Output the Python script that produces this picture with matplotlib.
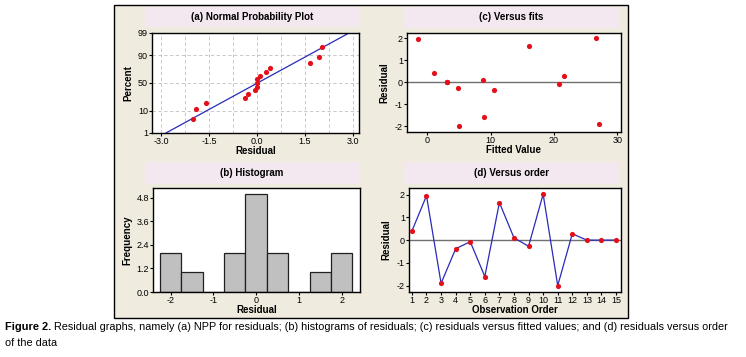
import matplotlib
matplotlib.use("Agg")
import matplotlib.pyplot as plt
from matplotlib.patches import Rectangle
from statistics import NormalDist
import numpy as np

# residuals in observation order
order = list(range(1, 16))
residuals = [0.40, 1.95, -1.90, -0.38, -0.07, -1.60, 1.65, 0.10, -0.27, 2.02, -2.00, 0.28, 0.0, 0.0, 0.0]
fitted = [1.0, -1.5, 27.2, 10.5, 20.8, 9.0, 16.1, 8.8, 4.8, 26.6, 5.0, 21.6, 3.1, 3.1, 3.1]

npp_xticks = [-3.0, -1.5, 0.0, 1.5, 3.0]
npp_yticks = [1, 10, 50, 90, 99]
hist_bins = [-2.25, -1.75, -1.25, -0.75, -0.25, 0.25, 0.75, 1.25, 1.75, 2.25]
hist_yticks = [0.0, 1.2, 2.4, 3.6, 4.8]

W, H = 746, 357
BG = "#efebdf"
BAND = "#f3e7f0"
RED = "#e3101b"
BLUE = "#2a2ab8"
plt.rcParams['font.family'] = ['Liberation Sans', 'DejaVu Sans']
plt.rcParams['axes.unicode_minus'] = False

fig = plt.figure(figsize=(W / 100, H / 100), dpi=100)


def box(x0, y0, x1, y1):
    return [x0 / W, 1 - y1 / H, (x1 - x0) / W, (y1 - y0) / H]


def rect(x0, y0, x1, y1, **kw):
    b = box(x0, y0, x1, y1)
    fig.patches.append(Rectangle((b[0], b[1]), b[2], b[3], transform=fig.transFigure, **kw))


def ftext(x, y, s, **kw):
    return fig.text(x / W, 1 - y / H, s, **kw)


rect(114, 5, 628, 318, facecolor=BG, edgecolor="black", lw=1.0, zorder=-2)
for b in [(145, 7, 360, 27), (404, 7, 619, 28), (145, 162, 360, 184), (404, 162, 619, 184)]:
    rect(*b, facecolor=BAND, edgecolor="none", zorder=-1)

tfont = dict(fontsize=7, fontweight="bold", ha="center", va="center")
ftext(252, 17, "(a) Normal Probability Plot", **tfont)
ftext(511, 17, "(c) Versus fits", **tfont)
ftext(252, 173, "(b) Histogram", **tfont)
ftext(511, 173, "(d) Versus order", **tfont)


def style(ax):
    ax.set_zorder(5)
    ax.tick_params(labelsize=6.5, length=2, width=0.8, pad=1, colors="black")
    for s in ax.spines.values():
        s.set_linewidth(1.0)
    ax.set_facecolor("white")


# (a) normal probability plot
nd = NormalDist()
ax = fig.add_axes(box(152, 33, 359, 133))
srt = np.sort(residuals)
n = len(srt)
pz = [nd.inv_cdf((i + 1 - 0.3) / (n + 0.4)) for i in range(n)]
mu, sd = np.mean(residuals), np.std(residuals, ddof=1)
lz = np.array([nd.inv_cdf(0.01), nd.inv_cdf(0.99)])
ax.plot(mu + sd * lz, lz, color=BLUE, lw=0.9, zorder=2)
ax.scatter(srt, pz, s=14, color=RED, zorder=3, linewidths=0)
ax.set_xlim(-3.29, 3.19)
ax.set_ylim(lz[0], lz[1])
ax.set_xticks(npp_xticks)
ax.set_xticklabels([f"{v:.1f}" for v in npp_xticks])
ax.set_yticks([nd.inv_cdf(p / 100) for p in npp_yticks])
ax.set_yticklabels([str(p) for p in npp_yticks])
for gx in np.arange(-3.0, 3.01, 0.75):
    ax.axvline(gx, color="#c0c0c0", lw=0.6, ls=(0, (4, 3)), zorder=1)
for p in [10, 50, 90]:
    ax.axhline(nd.inv_cdf(p / 100), color="#c0c0c0", lw=0.6, ls=(0, (4, 3)), zorder=1)
style(ax)
ax.set_xlabel("Residual", fontsize=7, fontweight="bold", labelpad=0)
ax.set_ylabel("Percent", fontsize=7, fontweight="bold", labelpad=3)

# (c) versus fits
ax = fig.add_axes(box(407, 33, 621, 132))
ax.axhline(0, color="#707070", lw=1.0, zorder=1)
ax.scatter(fitted, residuals, s=14, color=RED, zorder=3, linewidths=0)
ax.set_xlim(-3.2, 30.6)
ax.set_ylim(-2.27, 2.23)
ax.set_xticks([0, 10, 20, 30])
ax.set_yticks([-2, -1, 0, 1, 2])
style(ax)
ax.set_xlabel("Fitted Value", fontsize=7, fontweight="bold", labelpad=0)
ax.set_ylabel("Residual", fontsize=7, fontweight="bold", labelpad=4)

# (b) histogram
ax = fig.add_axes(box(153, 188, 360, 292))
ax.hist(residuals, bins=hist_bins, color="#c0c0c0", edgecolor="#202020", lw=0.9)
ax.set_xlim(-2.41, 2.43)
ax.set_ylim(0, 5.31)
ax.set_xticks([-2, -1, 0, 1, 2])
ax.set_yticks(hist_yticks)
ax.set_yticklabels([f"{v:.1f}" for v in hist_yticks])
style(ax)
ax.set_xlabel("Residual", fontsize=7, fontweight="bold", labelpad=0)
ax.set_ylabel("Frequency", fontsize=7, fontweight="bold", labelpad=3)

# (d) versus order
ax = fig.add_axes(box(409, 188, 621, 292))
ax.axhline(0, color="#707070", lw=1.0, zorder=1)
ax.plot(order, residuals, color=BLUE, lw=0.9, zorder=2)
ax.scatter(order, residuals, s=14, color=RED, zorder=3, linewidths=0)
ax.set_xlim(0.8, 15.34)
ax.set_ylim(-2.28, 2.29)
ax.set_xticks(order)
ax.set_yticks([-2, -1, 0, 1, 2])
style(ax)
ax.set_xlabel("Observation Order", fontsize=7, fontweight="bold", labelpad=0)
ax.set_ylabel("Residual", fontsize=7, fontweight="bold", labelpad=4)

# caption
cap = ftext(5, 327, "Figure 2.", fontsize=7.9, fontweight="bold", va="center", ha="left")
r = fig.canvas.get_renderer()
x_end = cap.get_window_extent(r).x1
ftext(x_end + 3, 327, "Residual graphs, namely (a) NPP for residuals; (b) histograms of residuals; "
      "(c) residuals versus fitted values; and (d) residuals versus order",
      fontsize=7.8, va="center", ha="left")
ftext(5, 343, "of the data", fontsize=7.8, va="center", ha="left")

fig.savefig("out.png", dpi=100, facecolor="white")
